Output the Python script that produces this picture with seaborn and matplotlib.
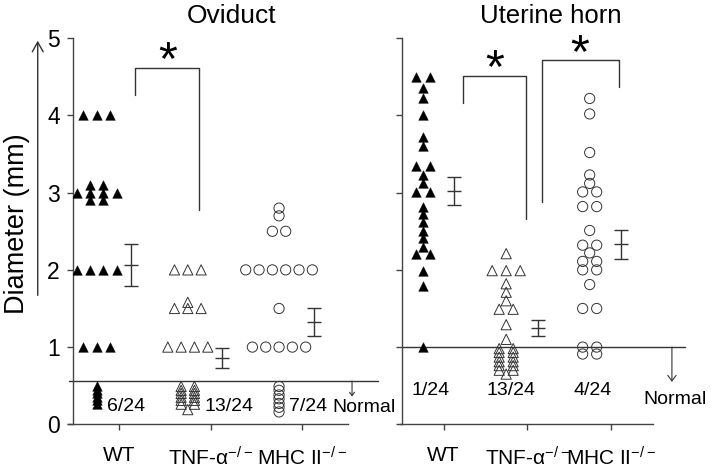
import numpy as np
import matplotlib
matplotlib.use("Agg")
import matplotlib.pyplot as plt
import seaborn as sns
from matplotlib.patches import FancyArrowPatch

# group labels on the x axis
groups = ["WT", "TNF-α$^{-/-}$", "MHC II$^{-/-}$"]

# Oviduct diameters (mm), values above the "normal" line
ovi_wt = [4.0, 4.0, 4.0, 3.1, 3.1, 3.0, 3.0, 3.0, 3.0, 2.9, 2.9,
          2.0, 2.0, 2.0, 2.0, 1.0, 1.0, 1.0]
ovi_tnf = [2.0, 2.0, 2.0, 1.58, 1.5, 1.5, 1.5, 1.0, 1.0, 1.0, 1.0]
ovi_mhc = [2.8, 2.7, 2.5, 2.5, 2.0, 2.0, 2.0, 2.0, 2.0, 2.0, 1.5, 1.0, 1.0, 1.0, 1.0, 1.0]
# normal ones (stacked below the line)
ovi_wt_norm = [0.49, 0.44, 0.40, 0.35, 0.31, 0.26]
ovi_tnf_norm = [0.49, 0.49, 0.44, 0.44, 0.40, 0.40, 0.35, 0.35, 0.31, 0.31,
                0.26, 0.26, 0.19]
ovi_mhc_norm = [0.49, 0.44, 0.38, 0.33, 0.27, 0.22, 0.16]
ovi_mean = [2.06, 0.86, 1.32]
ovi_sem = [0.27, 0.13, 0.18]
ovi_counts = ["6/24", "13/24", "7/24"]

# Uterine horn diameters (mm)
ut_wt = [4.5, 4.5, 4.35, 4.22, 4.0, 3.72, 3.6, 3.34, 3.34, 3.23, 3.12, 3.01, 3.01,
         2.82, 2.72, 2.62, 2.51, 2.41, 2.30, 2.21, 2.21, 1.99, 1.79]
ut_tnf = [2.21, 1.99, 1.99, 1.99, 1.82, 1.71, 1.60, 1.49, 1.49, 1.29, 1.10]
ut_mhc = [4.22, 4.02, 3.52, 3.23, 3.12, 3.01, 3.01, 2.82, 2.82, 2.51, 2.32, 2.32,
          2.22, 2.11, 2.11, 2.0, 2.0, 1.81, 1.5, 1.5]
ut_wt_norm = [1.0]
ut_tnf_norm = [0.98, 0.98, 0.93, 0.93, 0.87, 0.87, 0.81, 0.81, 0.76, 0.76,
               0.70, 0.70, 0.65]
ut_mhc_norm = [1.0, 1.0, 0.91, 0.91]
ut_mean = [3.02, 1.25, 2.33]
ut_sem = [0.185, 0.105, 0.185]
ut_counts = ["1/24", "13/24", "4/24"]

normal_cut = [0.56, 1.0]

sns.set_style("ticks")
plt.rcParams["font.family"] = ["Liberation Sans", "DejaVu Sans"]
plt.rcParams["mathtext.fontset"] = "custom"
plt.rcParams["mathtext.rm"] = "Liberation Sans"
plt.rcParams["mathtext.default"] = "regular"
plt.rcParams["text.color"] = "black"
plt.rcParams["xtick.labelcolor"] = "black"
plt.rcParams["ytick.labelcolor"] = "black"

LINE = "#333333"
styles = [
    dict(marker="^", s=48, color="black", edgecolor="black", linewidth=0.3),
    dict(marker="^", s=54, facecolor="none", edgecolor=LINE, linewidth=0.7),
    dict(marker="o", s=54, facecolor="none", edgecolor=LINE, linewidth=0.7),
]


def row_offsets(values, gap):
    # equal values are spread side by side, centred on the group
    values = np.asarray(values)
    offs = np.zeros(len(values))
    for v in np.unique(values):
        idx = np.where(values == v)[0]
        offs[idx] = (np.arange(len(idx)) - (len(idx) - 1) / 2) * gap
    return offs


def draw_panel(ax, data, normals, means, sems, gap):
    for i, (vals, norm) in enumerate(zip(data, normals)):
        for v in (vals, norm):
            xs = i + row_offsets(v, gap)
            sns.scatterplot(x=xs, y=v, ax=ax, legend=False, zorder=3, **styles[i])
    xe = np.arange(3) + 0.38
    ax.errorbar(xe, means, yerr=sems, fmt="none", ecolor=LINE, elinewidth=1,
                capsize=4.7, capthick=1)
    ax.plot(xe, means, ls="none", marker="_", ms=9.4, mew=1, color=LINE)
    ax.set_ylim(0, 5)
    ax.set_xticks(np.arange(3) + 0.25)
    ax.set_xticklabels(groups, fontsize=15)
    ax.set_yticks(range(6))
    ax.tick_params(axis="both", direction="out", length=4.5, width=1, color="#444444")
    ax.tick_params(axis="x", pad=11)
    ax.tick_params(axis="y", labelsize=16.5, pad=5)
    for side in ("top", "right"):
        ax.spines[side].set_visible(False)
    for side in ("left", "bottom"):
        ax.spines[side].set_color("#444444")
        ax.spines[side].set_linewidth(1)


fig = plt.figure(figsize=(7.13, 4.68), dpi=100)
ax1 = fig.add_axes([0.1024, 0.0934, 0.3857, 0.8248])
ax2 = fig.add_axes([0.5638, 0.0934, 0.352, 0.8248])

draw_panel(ax1, [ovi_wt, ovi_tnf, ovi_mhc], [ovi_wt_norm, ovi_tnf_norm, ovi_mhc_norm],
           ovi_mean, ovi_sem, 0.146)
draw_panel(ax2, [ut_wt, ut_tnf, ut_mhc], [ut_wt_norm, ut_tnf_norm, ut_mhc_norm],
           ut_mean, ut_sem, 0.168)

ax1.set_xlim(-0.258, 2.756)
ax2.set_xlim(-0.248, 2.758)
ax1.spines["bottom"].set_bounds(-0.31, 2.756)
ax2.spines["bottom"].set_bounds(-0.272, 2.758)
ax2.tick_params(axis="y", labelleft=False)

# normal lines and arrows
ax1.plot([-0.30, 3.08], [normal_cut[0]] * 2, color=LINE, lw=1, clip_on=False)
ax2.plot([-0.248, 3.14], [normal_cut[1]] * 2, color=LINE, lw=1, clip_on=False)
ax1.annotate("", xy=(2.80, 0.36), xytext=(2.80, normal_cut[0]), annotation_clip=False,
             arrowprops=dict(arrowstyle="->,head_length=0.4,head_width=0.3",
                             color=LINE, lw=0.8, mutation_scale=6, shrinkA=0, shrinkB=0))
ax2.annotate("", xy=(2.985, 0.55), xytext=(2.985, normal_cut[1]), annotation_clip=False,
             arrowprops=dict(arrowstyle="->,head_length=0.4,head_width=0.3",
                             color=LINE, lw=0.8, mutation_scale=10, shrinkA=0, shrinkB=0))
ax1.text(2.93, 0.22, "Normal", ha="center", va="center", fontsize=14, clip_on=False)
ax2.text(3.02, 0.32, "Normal", ha="center", va="center", fontsize=14, clip_on=False)

for x, lab in zip([0.115, 1.18, 2.11], ovi_counts):
    ax1.text(x, 0.23, lab, ha="left", va="center", fontsize=14)
for x, lab in zip([0.09, 1.056, 2.04], ut_counts):
    ax2.text(x, 0.44, lab, ha="center", va="center", fontsize=14)

# significance brackets
ax1.plot([0.42, 0.42, 1.12, 1.12], [4.27, 4.61, 4.61, 2.78], color=LINE, lw=1, clip_on=False)
ax1.text(0.78, 4.70, "*", ha="center", va="center", fontsize=35, clip_on=False)
ax2.plot([0.48, 0.48, 1.24, 1.24], [4.16, 4.51, 4.51, 2.66], color=LINE, lw=1, clip_on=False)
ax2.text(0.866, 4.60, "*", ha="center", va="center", fontsize=35, clip_on=False)
ax2.plot([1.425, 1.425, 2.355, 2.355], [2.88, 4.72, 4.72, 4.37], color=LINE, lw=1, clip_on=False)
ax2.text(1.884, 4.79, "*", ha="center", va="center", fontsize=35, clip_on=False)

fig.text(232 / 713, 1 - 16 / 468, "Oviduct", ha="center", va="center", fontsize=19)
fig.text(551 / 713, 1 - 16 / 468, "Uterine horn", ha="center", va="center", fontsize=18.5)
fig.text(17 / 713, 0.522, "Diameter (mm)", rotation=90, ha="center", va="center", fontsize=19.5)
fig.add_artist(FancyArrowPatch((0.0529, 0.363), (0.0529, 0.919), transform=fig.transFigure,
                               arrowstyle="->,head_length=0.5,head_width=0.28",
                               mutation_scale=14, color=LINE, lw=1))

fig.savefig("out.png", dpi=100)
